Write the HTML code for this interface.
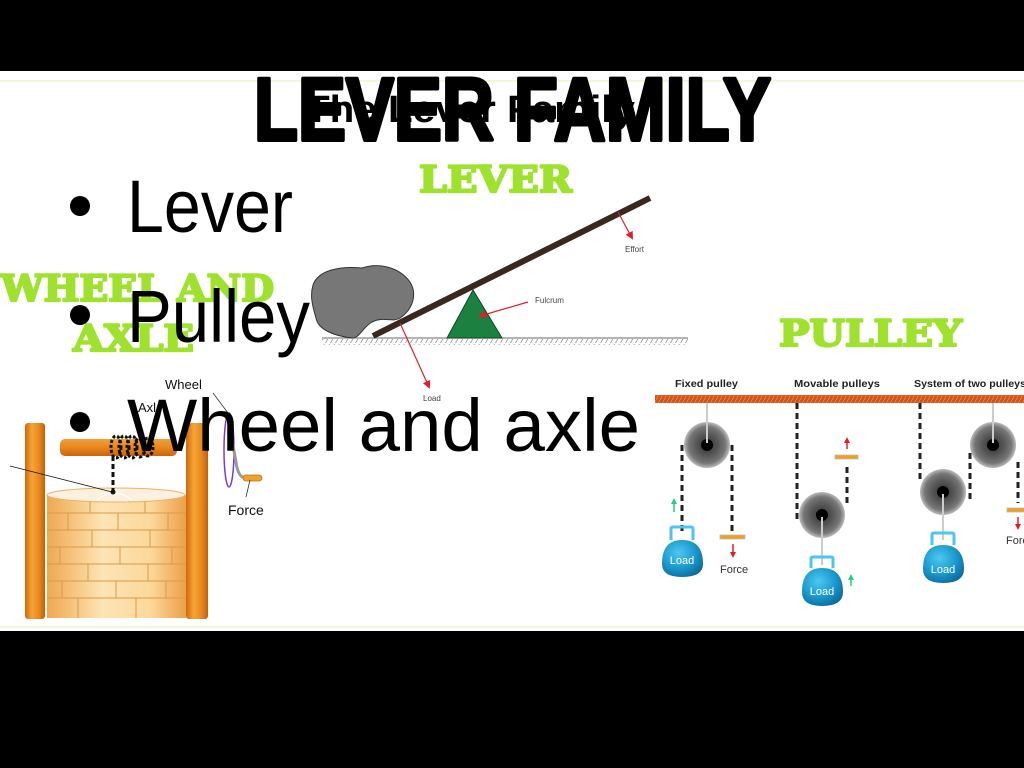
<!DOCTYPE html>
<html><head><meta charset="utf-8"><style>
html,body{margin:0;padding:0;width:1024px;height:768px;overflow:hidden;background:#000}
svg{display:block}
</style></head><body>
<svg width="1024" height="768" viewBox="0 0 1024 768" xmlns="http://www.w3.org/2000/svg">
<defs>
 <pattern id="hatch" width="5" height="8" patternUnits="userSpaceOnUse"><line x1="4.5" y1="0" x2="0.5" y2="7" stroke="#999" stroke-width="0.8"/></pattern>
 <pattern id="ohatch" width="4" height="8" patternUnits="userSpaceOnUse"><rect width="4" height="8" fill="#d2561c"/><line x1="4" y1="0" x2="0" y2="8" stroke="#e98a4a" stroke-width="0.8"/></pattern>
 <linearGradient id="wood" x1="0" x2="1"><stop offset="0" stop-color="#cf680a"/><stop offset="0.35" stop-color="#f6a436"/><stop offset="0.7" stop-color="#e88a1e"/><stop offset="1" stop-color="#c0600a"/></linearGradient>
 <linearGradient id="woodh" x1="0" y1="0" x2="0" y2="1"><stop offset="0" stop-color="#f2a03a"/><stop offset="0.5" stop-color="#e8861c"/><stop offset="1" stop-color="#c8640c"/></linearGradient>
 <linearGradient id="brick" x1="0" x2="1"><stop offset="0" stop-color="#efa850"/><stop offset="0.4" stop-color="#fde4b4"/><stop offset="0.75" stop-color="#fbd79a"/><stop offset="1" stop-color="#eca048"/></linearGradient>
 <radialGradient id="pul"><stop offset="0" stop-color="#333"/><stop offset="0.45" stop-color="#555"/><stop offset="0.8" stop-color="#777"/><stop offset="1" stop-color="#bbb"/></radialGradient>
 <radialGradient id="load" cx="0.4" cy="0.35" r="0.7"><stop offset="0" stop-color="#4cc8f0"/><stop offset="0.6" stop-color="#1a98cc"/><stop offset="1" stop-color="#0c6c9c"/></radialGradient>
 <marker id="ar" markerWidth="8" markerHeight="8" refX="6" refY="4" orient="auto" markerUnits="userSpaceOnUse"><path d="M0,0 L8,4 L0,8 z" fill="#e01e2a"/></marker>
</defs>

<rect x="0" y="71" width="1024" height="560" fill="#fff"/>
<line x1="0" y1="81" x2="1024" y2="81" stroke="#f3f6d8" stroke-width="2"/>
<line x1="0" y1="627" x2="1024" y2="627" stroke="#f3f6d8" stroke-width="2"/>

<!-- ===== LEVER diagram ===== -->
<g font-family="DejaVu Serif, serif" font-weight="bold" font-size="36" fill="#9fe22e" stroke="#9fe22e" stroke-width="2.2" stroke-linejoin="round">
 <text x="419" y="192" textLength="153" lengthAdjust="spacingAndGlyphs">LEVER</text>
 <text x="1" y="301" textLength="273" lengthAdjust="spacingAndGlyphs">WHEEL AND</text>
 <text x="73" y="351" textLength="121" lengthAdjust="spacingAndGlyphs">AXLE</text>
 <text x="779" y="346" textLength="183" lengthAdjust="spacingAndGlyphs">PULLEY</text>
</g>
<line x1="322" y1="338" x2="688" y2="338" stroke="#888" stroke-width="1.2"/>
<rect x="322" y="339" width="366" height="6" fill="url(#hatch)"/>
<path d="M313,285 C318,270 340,266 362,268 C380,262 400,268 410,282 C418,295 412,310 400,318 C392,323 384,316 372,322 C362,328 360,338 352,338 C335,336 318,330 316,318 C312,305 310,295 313,285 Z" fill="#777" stroke="#333" stroke-width="1"/>
<polygon points="473,290 447,338 502,338" fill="#1b8040" stroke="#0d4a22" stroke-width="1"/>
<line x1="373" y1="336" x2="650" y2="198" stroke="#3a281e" stroke-width="6"/>
<line x1="618" y1="212" x2="632" y2="238" stroke="#e01e2a" stroke-width="1.2" marker-end="url(#ar)"/>
<text x="625" y="252" font-family="Liberation Sans, sans-serif" font-size="8" fill="#444">Effort</text>
<line x1="528" y1="302" x2="480" y2="316" stroke="#e01e2a" stroke-width="1.2" marker-end="url(#ar)"/>
<text x="535" y="303" font-family="Liberation Sans, sans-serif" font-size="8" fill="#444">Fulcrum</text>
<line x1="400" y1="323" x2="429" y2="387" stroke="#e01e2a" stroke-width="1.2" marker-end="url(#ar)"/>
<text x="423" y="401" font-family="Liberation Sans, sans-serif" font-size="8" fill="#444">Load</text>

<!-- ===== WHEEL AND AXLE ===== -->
<rect x="25" y="423" width="20" height="196" rx="3" fill="url(#wood)"/>
<rect x="186" y="423" width="22" height="196" rx="3" fill="url(#wood)"/>
<rect x="47" y="495" width="139" height="123" fill="url(#brick)"/>
<g stroke="#d89a4a" stroke-width="1" fill="none">
 <line x1="47" y1="513" x2="186" y2="513"/><line x1="47" y1="530" x2="186" y2="530"/>
 <line x1="47" y1="547" x2="186" y2="547"/><line x1="47" y1="564" x2="186" y2="564"/>
 <line x1="47" y1="581" x2="186" y2="581"/><line x1="47" y1="598" x2="186" y2="598"/>
 <line x1="90" y1="500" x2="90" y2="513"/><line x1="145" y1="500" x2="145" y2="513"/>
 <line x1="68" y1="513" x2="68" y2="530"/><line x1="118" y1="513" x2="118" y2="530"/><line x1="168" y1="513" x2="168" y2="530"/>
 <line x1="92" y1="530" x2="92" y2="547"/><line x1="150" y1="530" x2="150" y2="547"/>
 <line x1="60" y1="547" x2="60" y2="564"/><line x1="120" y1="547" x2="120" y2="564"/><line x1="172" y1="547" x2="172" y2="564"/>
 <line x1="88" y1="564" x2="88" y2="581"/><line x1="148" y1="564" x2="148" y2="581"/>
 <line x1="62" y1="581" x2="62" y2="598"/><line x1="116" y1="581" x2="116" y2="598"/><line x1="166" y1="581" x2="166" y2="598"/>
 <line x1="78" y1="598" x2="78" y2="618"/><line x1="136" y1="598" x2="136" y2="618"/>
</g>
<ellipse cx="116" cy="495" rx="69" ry="7" fill="#fbf1de" stroke="#e9b26a" stroke-width="1"/>
<path d="M97,500 Q113,486 132,500" fill="none" stroke="#fff" stroke-width="1.5"/>
<rect x="60" y="439" width="117" height="17" rx="5" fill="url(#woodh)"/>
<g fill="none" stroke="#111" stroke-width="3" stroke-dasharray="3 2">
 <ellipse cx="116" cy="447" rx="5" ry="11"/><ellipse cx="124" cy="447" rx="5" ry="11"/>
 <ellipse cx="132" cy="447" rx="5" ry="11"/><ellipse cx="140" cy="447" rx="5" ry="10"/>
 <ellipse cx="148" cy="447" rx="5" ry="9"/>
</g>
<line x1="113" y1="456" x2="113" y2="492" stroke="#111" stroke-width="3" stroke-dasharray="5 3"/>
<circle cx="113" cy="492" r="2.5" fill="#111"/>
<line x1="10" y1="466" x2="112" y2="492" stroke="#111" stroke-width="0.8"/>
<text x="165" y="389" font-family="Liberation Sans, sans-serif" font-size="13" fill="#111">Wheel</text>
<text x="138" y="412" font-family="Liberation Sans, sans-serif" font-size="13" fill="#111">Axl</text>
<line x1="213" y1="393" x2="228" y2="413" stroke="#333" stroke-width="0.8"/>
<ellipse cx="229" cy="450" rx="5" ry="37" fill="none" stroke="#7a3ad8" stroke-width="1.5"/>
<path d="M232,440 L236,462 Q238,478 246,478" fill="none" stroke="#999" stroke-width="3"/>
<rect x="243" y="475" width="19" height="6" rx="3" fill="#f0a030" stroke="#c07010" stroke-width="0.8"/>
<line x1="250" y1="480" x2="246" y2="497" stroke="#333" stroke-width="0.8"/>
<text x="228" y="515" font-family="Liberation Sans, sans-serif" font-size="14" fill="#111">Force</text>

<!-- ===== PULLEY ===== -->
<g font-family="Liberation Sans, sans-serif" font-weight="bold" font-size="10.5" fill="#222">
 <text x="675" y="387" textLength="63" lengthAdjust="spacingAndGlyphs">Fixed pulley</text>
 <text x="794" y="387" textLength="86" lengthAdjust="spacingAndGlyphs">Movable pulleys</text>
 <text x="914" y="387" textLength="112" lengthAdjust="spacingAndGlyphs">System of two pulleys</text>
</g>
<rect x="655" y="395" width="369" height="8" fill="url(#ohatch)"/>

<g stroke="#222" stroke-width="3" stroke-dasharray="6 4" fill="none">
 <line x1="682" y1="445" x2="682" y2="532"/>
 <line x1="732" y1="445" x2="732" y2="533"/>
 <line x1="797" y1="403" x2="797" y2="523"/>
 <line x1="847" y1="467" x2="847" y2="507"/>
 <line x1="920" y1="403" x2="920" y2="480"/>
 <line x1="970" y1="453" x2="970" y2="503"/>
 <line x1="1018" y1="462" x2="1018" y2="503"/>
</g>
<g>
 <circle cx="707" cy="445" r="23" fill="url(#pul)"/><circle cx="707" cy="445" r="6" fill="#000"/>
 <circle cx="822" cy="515" r="23" fill="url(#pul)"/><circle cx="822" cy="515" r="6" fill="#000"/>
 <circle cx="943" cy="492" r="23" fill="url(#pul)"/><circle cx="943" cy="492" r="6" fill="#000"/>
 <circle cx="993" cy="445" r="23" fill="url(#pul)"/><circle cx="993" cy="445" r="6" fill="#000"/>
</g>
<line x1="707" y1="403" x2="707" y2="443" stroke="#ccc" stroke-width="2"/>
<line x1="993" y1="403" x2="993" y2="443" stroke="#ccc" stroke-width="2"/>
<line x1="822" y1="517" x2="822" y2="565" stroke="#ccc" stroke-width="2"/>
<line x1="943" y1="494" x2="943" y2="540" stroke="#ccc" stroke-width="2"/>

<g font-family="Liberation Sans, sans-serif" font-size="11" fill="#fff" text-anchor="middle">
 <path d="M671,540 L671,529 Q671,527 673,527 L691,527 Q693,527 693,529 L693,540" fill="none" stroke="#4cc6ee" stroke-width="3"/>
 <path d="M662,564 Q662,540 682,540 Q703,540 703,564 Q703,577 682,577 Q662,577 662,564 Z" fill="url(#load)"/>
 <text x="682" y="564">Load</text>
 <path d="M811,568 L811,559 Q811,557 813,557 L831,557 Q833,557 833,559 L833,568" fill="none" stroke="#4cc6ee" stroke-width="3"/>
 <path d="M802,592 Q802,568 822,568 Q843,568 843,592 Q843,606 822,606 Q802,606 802,592 Z" fill="url(#load)"/>
 <text x="822" y="595">Load</text>
 <path d="M932,545 L932,535 Q932,533 934,533 L952,533 Q954,533 954,535 L954,545" fill="none" stroke="#4cc6ee" stroke-width="3"/>
 <path d="M923,569 Q923,545 943,545 Q964,545 964,569 Q964,583 943,583 Q923,583 923,569 Z" fill="url(#load)"/>
 <text x="943" y="573">Load</text>
</g>
<g fill="#f0a020" stroke="#bbb" stroke-width="0.8">
 <rect x="720" y="535" width="25" height="4"/>
 <rect x="835" y="455" width="23" height="4"/>
 <rect x="1007" y="508" width="20" height="4"/>
</g>
<g stroke-width="1.5" fill="none">
 <line x1="674" y1="512" x2="674" y2="502" stroke="#1ed08a"/><path d="M671,504 L674,498 L677,504 z" fill="#1ed08a"/>
 <line x1="851" y1="586" x2="851" y2="578" stroke="#1ed08a"/><path d="M848,580 L851,574 L854,580 z" fill="#1ed08a"/>
 <line x1="733" y1="544" x2="733" y2="553" stroke="#e01e2a"/><path d="M730,552 L733,558 L736,552 z" fill="#e01e2a"/>
 <line x1="847" y1="449" x2="847" y2="442" stroke="#e01e2a"/><path d="M844,443 L847,437 L850,443 z" fill="#e01e2a"/>
 <line x1="1018" y1="517" x2="1018" y2="525" stroke="#e01e2a"/><path d="M1015,524 L1018,530 L1021,524 z" fill="#e01e2a"/>
</g>
<text x="720" y="573" font-family="Liberation Sans, sans-serif" font-size="11" fill="#333">Force</text>
<text x="1006" y="544" font-family="Liberation Sans, sans-serif" font-size="11" fill="#333">Force</text>

<!-- ===== Title ===== -->
<text x="305" y="122" font-family="Liberation Sans, sans-serif" font-weight="bold" font-size="38" fill="#000" textLength="330" lengthAdjust="spacingAndGlyphs">The Lever Family</text>
<text x="254" y="140" font-family="Liberation Sans, sans-serif" font-weight="bold" font-size="89" fill="#000" stroke="#000" stroke-width="4" stroke-linejoin="round" textLength="517" lengthAdjust="spacingAndGlyphs">LEVER FAMILY</text>

<!-- ===== Bullets ===== -->
<g font-family="Liberation Sans, sans-serif" font-size="74" fill="#000">
 <circle cx="80" cy="206" r="10"/>
 <text x="127" y="232" textLength="166" lengthAdjust="spacingAndGlyphs">Lever</text>
 <circle cx="80" cy="315" r="10"/>
 <text x="127" y="342" textLength="183" lengthAdjust="spacingAndGlyphs">Pulley</text>
 <circle cx="80" cy="422" r="10"/>
 <text x="127" y="451" textLength="513" lengthAdjust="spacingAndGlyphs">Wheel and axle</text>
</g>
</svg>
</body></html>
